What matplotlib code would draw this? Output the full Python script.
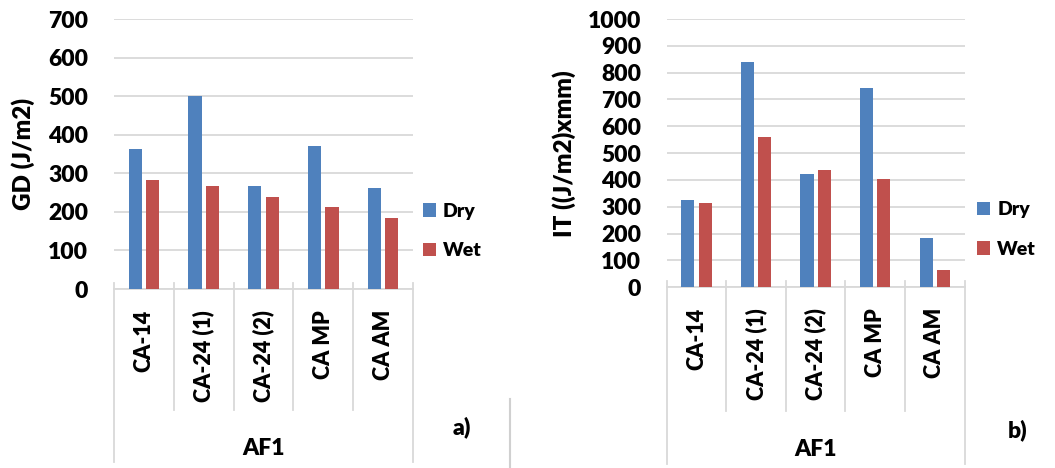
import numpy as np
import matplotlib
matplotlib.use("Agg")
import matplotlib.pyplot as plt
import matplotlib.transforms as mtransforms

# data
categories = ["CA-14", "CA-24 (1)", "CA-24 (2)", "CA MP", "CA AM"]
group = "AF1"
series = ["Dry", "Wet"]

gd_dry = [362, 500, 267, 371, 263]
gd_wet = [283, 268, 238, 212, 185]

it_dry = [324, 839, 421, 741, 184]
it_wet = [313, 562, 437, 405, 65]

blue = "#4F81BD"
red = "#C0504D"
grid_col = "#D9D9D9"

plt.rcParams['font.family'] = ['Lato', 'DejaVu Sans']
plt.rcParams['font.weight'] = 'heavy'
plt.rcParams['axes.labelweight'] = 'heavy'
fs = 16.5


def draw_panel(ax, dry, wet, ylabel, ymax, ylab_x, leg_x, inner_y, outer_y):
    x = np.arange(len(categories))
    w = 0.22
    ax.bar(x - 0.145, dry, w, color=blue, label=series[0], zorder=3)
    ax.bar(x + 0.145, wet, w, color=red, label=series[1], zorder=3)

    ax.set_xlim(-0.5, len(categories) - 0.5)
    ax.set_ylim(0, ymax)
    ax.set_yticks(np.arange(0, ymax + 1, 100))
    ax.yaxis.grid(True, color=grid_col, lw=1.3, zorder=0)
    ax.set_axisbelow(True)
    for s in ["top", "left", "right"]:
        ax.spines[s].set_visible(False)
    ax.spines["bottom"].set_color(grid_col)
    ax.spines["bottom"].set_linewidth(1.3)

    ax.set_xticks(x, categories, rotation=90, va="top")
    ax.tick_params(axis="x", length=0, pad=15, labelsize=15.5)
    ax.tick_params(axis="y", length=0, pad=18.5, labelsize=fs)
    ax.set_ylabel(ylabel, fontsize=17.5)
    ax.yaxis.set_label_coords(ylab_x, 0.5)

    # category separators below the axis
    trans = mtransforms.blended_transform_factory(ax.transData, ax.transAxes)
    bounds = np.arange(len(categories) + 1) - 0.5
    for i, b in enumerate(bounds):
        y1 = outer_y if i in (0, len(bounds) - 1) else inner_y
        ax.plot([b, b], [0.022, y1], color=grid_col, lw=1.3,
                transform=trans, clip_on=False)
    ax.text(0.5, (inner_y + outer_y) / 2 - 0.045, group, transform=ax.transAxes,
            ha="center", va="center", fontsize=fs)

    ax.legend(loc="center left", bbox_to_anchor=(leg_x, 0.215), frameon=False,
              fontsize=14, handlelength=0.7, handleheight=0.7,
              handletextpad=0.35, labelspacing=1.15, borderpad=0,
              borderaxespad=0)


fig = plt.figure(figsize=(10.55, 4.68), dpi=100)
ax1 = fig.add_axes([114 / 1055, 1 - 289 / 468, 299 / 1055, 270 / 468])
ax2 = fig.add_axes([666.7 / 1055, 1 - 287.3 / 468, 297.8 / 1055, 268.3 / 468])

draw_panel(ax1, gd_dry, gd_wet, "GD (J/m2)", 700, -0.265, 1.032, -0.448, -0.641)
draw_panel(ax2, it_dry, it_wet, "IT ((J/m2)xmm)", 1000, -0.305, 1.041, -0.46, -0.66)

fig.text(461.5 / 1055, 1 - 427 / 468, "a)", ha="center", va="center", fontsize=fs)
fig.text(1018 / 1055, 1 - 430 / 468, "b)", ha="center", va="center", fontsize=fs)
fig.add_artist(plt.Line2D([510 / 1055, 510 / 1055], [0, 1 - 399 / 468],
                          color="#D0D0D0", lw=1.5))

fig.savefig("out.png", dpi=100)
